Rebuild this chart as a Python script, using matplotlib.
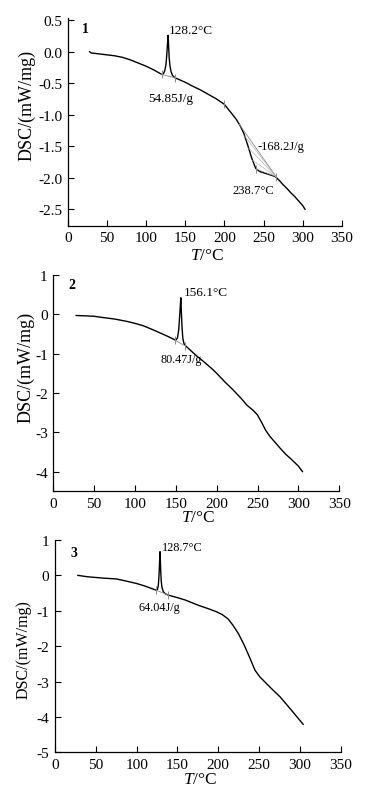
import numpy as np
import matplotlib
matplotlib.use("Agg")
import matplotlib.pyplot as plt

plt.rcParams["font.family"] = ["Liberation Serif", "DejaVu Serif"]
plt.rcParams["mathtext.fontset"] = "custom"
plt.rcParams["mathtext.rm"] = "Liberation Serif"
plt.rcParams["mathtext.it"] = "Liberation Serif:italic"

# ---- panel 1 ----
T1 = [28, 30, 40, 50, 60, 70, 80, 90, 100, 110, 120, 122, 124, 125.5, 126.5,
      127.3, 128.2, 129.0, 129.6, 130.5, 132, 134, 137, 140, 150, 160, 170,
      180, 190, 200, 210, 215, 220, 225, 230, 235, 240, 245, 250, 255, 260,
      265, 270, 275, 280, 285, 290, 295, 300, 303]
D1 = [0.0, -0.02, -0.035, -0.05, -0.065, -0.09, -0.13, -0.18, -0.23, -0.29,
      -0.36, -0.355, -0.30, -0.2, -0.05, 0.1, 0.26, 0.05, -0.1, -0.22, -0.32,
      -0.38, -0.415, -0.43, -0.485, -0.55, -0.61, -0.68, -0.75, -0.835, -0.99,
      -1.07, -1.17, -1.3, -1.49, -1.69, -1.85, -1.9, -1.92, -1.94, -1.96,
      -1.98, -2.04, -2.11, -2.17, -2.24, -2.3, -2.37, -2.44, -2.5]
melt1_T = [120, 137]
melt1_D = [-0.36, -0.415]
exo1_T = [219, 266]
exo1_D = [-1.15, -1.98]

# ---- panel 2 ----
T2 = [28, 40, 50, 60, 75, 90, 100, 110, 125, 140, 148, 150, 152, 153.5,
      154.5, 155.3, 156.1, 156.8, 157.5, 158.5, 160, 162, 165, 175, 185, 195,
      200, 210, 220, 230, 237, 245, 250, 255, 260, 265, 270, 277, 285, 290,
      295, 300, 305]
D2 = [-0.03, -0.04, -0.05, -0.08, -0.12, -0.18, -0.23, -0.29, -0.42, -0.56,
      -0.64, -0.66, -0.6, -0.4, -0.1, 0.15, 0.42, 0.05, -0.3, -0.6, -0.75,
      -0.8, -0.86, -1.05, -1.22, -1.4, -1.5, -1.72, -1.92, -2.14, -2.31,
      -2.45, -2.56, -2.75, -2.95, -3.1, -3.22, -3.39, -3.57, -3.66, -3.76,
      -3.86, -4.0]
melt2_T = [149, 161]
melt2_D = [-0.66, -0.8]

# ---- panel 3 ----
T3 = [28, 40, 50, 60, 75, 87, 100, 110, 124, 125.5, 126.5, 127.3, 128.0,
      128.7, 129.4, 130.1, 131, 132.5, 134, 136, 139, 150, 160, 175, 190,
      198, 205, 212, 218, 222, 225, 232, 239, 245, 251, 263, 276, 290, 304]
D3 = [0.0, -0.04, -0.06, -0.08, -0.1, -0.16, -0.23, -0.3, -0.42, -0.4, -0.3,
      -0.05, 0.3, 0.67, 0.2, -0.15, -0.33, -0.45, -0.5, -0.53, -0.56, -0.63,
      -0.7, -0.84, -0.96, -1.03, -1.11, -1.23, -1.41, -1.55, -1.66, -1.98,
      -2.35, -2.68, -2.87, -3.15, -3.44, -3.82, -4.21]
melt3_T = [124, 139]
melt3_D = [-0.42, -0.56]

fig = plt.figure(figsize=(3.74, 8.03), dpi=100)
ax1 = fig.add_axes([0.181, 0.7177, 0.733, 0.2583])
ax2 = fig.add_axes([0.1425, 0.387, 0.7645, 0.2693])
ax3 = fig.add_axes([0.147, 0.0619, 0.764, 0.2644])

gray = "#8a8a8a"


def style(ax, ylim, yticks, ylabels, ylab_xy, xlab_xy, ylab_size=13):
    ax.set_xlim(0, 350)
    ax.set_ylim(*ylim)
    ax.set_xticks(range(0, 351, 50))
    ax.set_yticks(yticks)
    ax.set_yticklabels(ylabels)
    for s in ("top", "right"):
        ax.spines[s].set_visible(False)
    for s in ("left", "bottom"):
        ax.spines[s].set_linewidth(0.9)
    ax.tick_params(direction="in", length=4, width=0.8, labelsize=11, pad=4)
    ax.set_xlabel("$T$/°C", fontsize=12.5)
    ax.set_ylabel("DSC/(mW/mg)", fontsize=ylab_size)
    ax.yaxis.set_label_coords(*ylab_xy)
    ax.xaxis.set_label_coords(*xlab_xy)


def melt_base(ax, bt, bd):
    ax.plot(bt, bd, color=gray, lw=0.6)
    ax.plot(bt, bd, ls="none", marker="|", ms=6, mew=0.7, color=gray)


# panel 1
ax1.plot(T1, D1, color="black", lw=1.0)
melt_base(ax1, melt1_T, melt1_D)
ax1.plot(exo1_T, exo1_D, color=gray, lw=0.6)
for t in [226, 231, 236, 241]:
    ax1.plot([t, exo1_T[1]], [np.interp(t, T1, D1), exo1_D[1]],
             color="#b0b0b0", lw=0.45)
ax1.plot([200, 241, 266], [np.interp(200, T1, D1), np.interp(241, T1, D1), -1.98],
         ls="none", marker="|", ms=6, mew=0.7, color=gray)
style(ax1, (-2.76, 0.53), [0.5, 0, -0.5, -1, -1.5, -2, -2.5],
      ["0.5", "0.0", "-0.5", "-1.0", "-1.5", "-2.0", "-2.5"],
      (-0.119, 0.583), (0.507, -0.103))
ax1.text(18, 0.37, "1", fontsize=10, fontweight="bold", va="center")
ax1.text(128.5, 0.35, "128.2°C", fontsize=9.5, va="center")
ax1.text(131, -0.73, "54.85J/g", fontsize=9.5, va="center", ha="center")
ax1.text(242.5, -1.49, "-168.2J/g", fontsize=9, va="center")
ax1.text(237, -2.19, "238.7°C", fontsize=9, va="center", ha="center")

# panel 2
ax2.plot(T2, D2, color="black", lw=1.0)
melt_base(ax2, melt2_T, melt2_D)
style(ax2, (-4.5, 1.0), [1, 0, -1, -2, -3, -4], ["1", "0", "-1", "-2", "-3", "-4"],
      (-0.064, 0.577), (0.507, -0.082))
ax2.text(18.5, 0.75, "2", fontsize=10, fontweight="bold", va="center")
ax2.text(160, 0.56, "156.1°C", fontsize=9.5, va="center")
ax2.text(156.5, -1.14, "80.47J/g", fontsize=8.7, va="center", ha="center")

# panel 3
ax3.plot(T3, D3, color="black", lw=1.0)
melt_base(ax3, melt3_T, melt3_D)
style(ax3, (-5.0, 1.0), [1, 0, -1, -2, -3, -4, -5],
      ["1", "0", "-1", "-2", "-3", "-4", "-5"],
      (-0.082, 0.487), (0.507, -0.087), ylab_size=11.5)
ax3.text(19.5, 0.65, "3", fontsize=10, fontweight="bold", va="center")
ax3.text(130.5, 0.81, "128.7°C", fontsize=8.8, va="center")
ax3.text(128, -0.89, "64.04J/g", fontsize=8.8, va="center", ha="center")

fig.savefig("out.png", dpi=100)
